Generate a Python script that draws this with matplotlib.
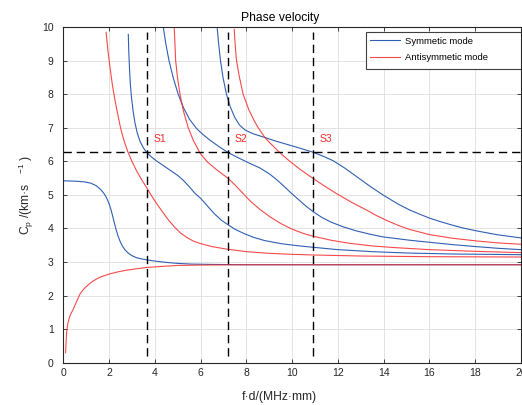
import matplotlib.pyplot as plt
from matplotlib.patches import Rectangle

plt.rcParams['font.family'] = ['Liberation Sans', 'DejaVu Sans']
plt.rcParams['mathtext.fontset'] = 'custom'
plt.rcParams['mathtext.rm'] = 'Liberation Sans'

BLUE = '#2f5fb3'
RED = '#f52a2a'

# symmetric modes (f*d in MHz*mm, phase velocity in km/s)
s0_x = [0, 0.5, 0.9, 1.2, 1.45, 1.65, 1.8, 1.92, 2.02, 2.1, 2.17, 2.24, 2.31, 2.39, 2.48, 2.58, 2.7, 2.85, 3.0,
        3.2, 3.45, 3.7, 4.0, 4.5, 5.0, 5.6, 6.5, 8, 20]
s0_y = [5.42, 5.41, 5.39, 5.35, 5.27, 5.15, 5.02, 4.87, 4.70, 4.52, 4.33, 4.14, 3.96, 3.78, 3.62, 3.48, 3.36, 3.26,
        3.19, 3.13, 3.09, 3.06, 3.03, 2.99, 2.96, 2.94, 2.93, 2.92, 2.92]

s1_x = [2.84, 2.86, 2.89, 2.93, 2.98, 3.05, 3.13, 3.23, 3.35, 3.5, 3.64, 3.85, 4.1, 4.4, 4.7, 5.0, 5.25, 5.5, 5.75,
        6.0, 6.3, 6.6, 6.9, 7.18, 7.5, 7.86, 8.3, 8.8, 9.5, 10.2, 10.92, 12, 13.5, 15, 17, 20]
s1_y = [9.78, 9.3, 8.8, 8.3, 7.9, 7.5, 7.15, 6.85, 6.6, 6.4, 6.27, 6.13, 6.0, 5.86, 5.72, 5.58, 5.43, 5.25, 5.05,
        4.9, 4.67, 4.44, 4.25, 4.12, 3.98, 3.86, 3.74, 3.64, 3.55, 3.49, 3.44, 3.37, 3.31, 3.27, 3.24, 3.22]

s2_x = [4.37, 4.48, 4.62, 4.8, 5.02, 5.25, 5.52, 5.82, 6.1, 6.41, 6.8, 7.18, 7.6, 8.15, 8.6, 9.0, 9.3, 9.61, 9.95,
        10.3, 10.6, 10.92, 11.3, 11.7, 12.23, 12.8, 13.4, 13.97, 15.14, 16.0, 17, 18.05, 19, 20]
s2_y = [10.0, 9.5, 9.0, 8.5, 8.0, 7.6, 7.25, 6.98, 6.8, 6.63, 6.44, 6.27, 6.12, 5.94, 5.8, 5.63, 5.47, 5.28, 5.06,
        4.85, 4.67, 4.50, 4.33, 4.19, 4.05, 3.93, 3.83, 3.75, 3.65, 3.59, 3.52, 3.46, 3.41, 3.37]

s3_x = [6.73, 6.79, 6.87, 6.98, 7.13, 7.3, 7.5, 7.7, 7.95, 8.3, 8.81, 9.3, 9.8, 10.4, 10.92, 11.4, 11.79, 12.3,
        12.81, 13.4, 13.97, 14.6, 15.14, 15.6, 16.0, 16.5, 17, 17.5, 18.05, 19, 20]
s3_y = [9.95, 9.5, 9.0, 8.5, 8.0, 7.62, 7.3, 7.08, 6.93, 6.82, 6.71, 6.6, 6.5, 6.38, 6.27, 6.14, 6.02, 5.8,
        5.55, 5.26, 5.0, 4.74, 4.55, 4.42, 4.31, 4.2, 4.1, 4.01, 3.93, 3.81, 3.72]

# antisymmetric modes
a0_x = [0.1, 0.12, 0.15, 0.2, 0.28, 0.36, 0.44, 0.55, 0.73, 0.9, 1.1, 1.31, 1.6, 2.04, 2.4, 2.77, 3.2, 3.64,
        4.3, 5.0, 6.0, 8, 20]
a0_y = [0.30, 0.60, 0.95, 1.18, 1.38, 1.50, 1.60, 1.78, 2.05, 2.20, 2.33, 2.44, 2.55, 2.65, 2.71, 2.76, 2.80, 2.84,
        2.87, 2.90, 2.91, 2.92, 2.92]

a1_x = [1.87, 1.95, 2.04, 2.14, 2.25, 2.38, 2.5, 2.65, 2.83, 3.0, 3.2, 3.4, 3.64, 3.85, 4.1, 4.35, 4.6, 4.85, 5.1,
        5.4, 5.7, 6.0, 6.5, 7.1, 8.0, 9.0, 10.0, 11, 13, 16, 20]
a1_y = [9.84, 9.3, 8.8, 8.3, 7.85, 7.4, 7.0, 6.62, 6.27, 6.0, 5.72, 5.48, 5.22, 4.98, 4.72, 4.48, 4.25, 4.05, 3.88,
        3.73, 3.62, 3.55, 3.46, 3.39, 3.31, 3.26, 3.23, 3.21, 3.18, 3.16, 3.15]

a2_x = [4.85, 4.88, 4.91, 4.99, 5.10, 5.25, 5.46, 5.68, 5.97, 6.3, 6.7, 7.21, 7.5, 7.86, 8.2, 8.59, 9.03, 9.5,
        10.0, 10.5, 10.92, 11.7, 12.5, 13.5, 14.5, 16, 18, 20]
a2_y = [9.95, 9.5, 9.0, 8.5, 8.0, 7.5, 7.0, 6.63, 6.25, 5.98, 5.75, 5.49, 5.3, 5.04, 4.8, 4.57, 4.35, 4.15,
        3.98, 3.85, 3.77, 3.65, 3.56, 3.48, 3.43, 3.37, 3.32, 3.28]

a3_x = [7.47, 7.51, 7.57, 7.7, 7.86, 8.1, 8.35, 8.52, 8.81, 9.03, 9.4, 9.83, 10.35, 10.92, 11.4, 11.94, 12.6,
        13.25, 13.7, 14.2, 14.65, 15.14, 15.6, 16, 17, 18.05, 19, 20]
a3_y = [9.93, 9.5, 9.0, 8.5, 8.0, 7.55, 7.2, 7.0, 6.71, 6.55, 6.3, 6.04, 5.76, 5.49, 5.27, 5.04, 4.78,
        4.55, 4.38, 4.22, 4.09, 3.97, 3.89, 3.82, 3.71, 3.63, 3.57, 3.53]

# reference cuts at Cp = 6.27 km/s
cut_v = 6.27
cut_fd = [3.64, 7.18, 10.92]
cut_names = ['S1', 'S2', 'S3']

fig = plt.figure(figsize=(5.22, 4.05), dpi=100)
ax = fig.add_axes([0.1213, 0.1042, 0.8765, 0.8291])

sym = [(s0_x, s0_y), (s1_x, s1_y), (s2_x, s2_y), (s3_x, s3_y)]
anti = [(a0_x, a0_y), (a1_x, a1_y), (a2_x, a2_y), (a3_x, a3_y)]
for i, (x, y) in enumerate(sym):
    ax.plot(x, y, color=BLUE, lw=0.8, label='Symmetic mode' if i == 0 else None)
for i, (x, y) in enumerate(anti):
    ax.plot(x, y, color=RED, lw=0.8, alpha=0.85, label='Antisymmetic mode' if i == 0 else None)

ax.axhline(cut_v, color='k', lw=1.0, ls=(0, (6, 3.5)))
for fd, name in zip(cut_fd, cut_names):
    ax.plot([fd, fd], [0.2, 9.85], color='k', lw=1.0, ls=(0, (6, 3.5)))
    ax.text(fd + 0.3, cut_v + 0.25, name, color=RED, fontsize=7.5, va='bottom')

ax.set_xlim(0, 20)
ax.set_ylim(0, 10)
ax.set_xticks(range(0, 21, 2))
ax.set_yticks(range(0, 11))
ax.grid(True, color='0.87', lw=0.6)
ax.set_axisbelow(True)
ax.tick_params(direction='in', top=True, right=True, length=3, width=0.6,
               labelsize=7.5, colors='0.15')
ax.tick_params(axis='x', pad=4)
ax.tick_params(axis='y', pad=7)
for sp in ax.spines.values():
    sp.set_color('0.15')
    sp.set_linewidth(0.8)

ax.set_title('Phase velocity', fontsize=8.7, x=0.473, pad=4)
ax.set_xlabel('f·d/(MHz·mm)', fontsize=8.7, color='0.15')
ax.xaxis.set_label_coords(0.473, -0.085)
ax.set_ylabel(r'C$_{\mathrm{p}}$ /(km·s   $^{\mathrm{-1}}$ )', fontsize=8.7, color='0.15')
ax.yaxis.set_label_coords(-0.060, 0.5)

# legend box drawn separately (MATLAB-style wide frame)
ax.add_patch(Rectangle((0.661, 0.875), 0.339, 0.11, transform=ax.transAxes, facecolor='white',
                       edgecolor='0.25', lw=0.8, zorder=5))
leg = ax.legend(loc='upper left', bbox_to_anchor=(0.661, 0.985), fontsize=6.8, handlelength=3.1,
                handletextpad=0.55, borderpad=0.5, borderaxespad=0, labelspacing=0.75, frameon=False)
leg.set_zorder(6)

fig.savefig('out.png', dpi=100)
